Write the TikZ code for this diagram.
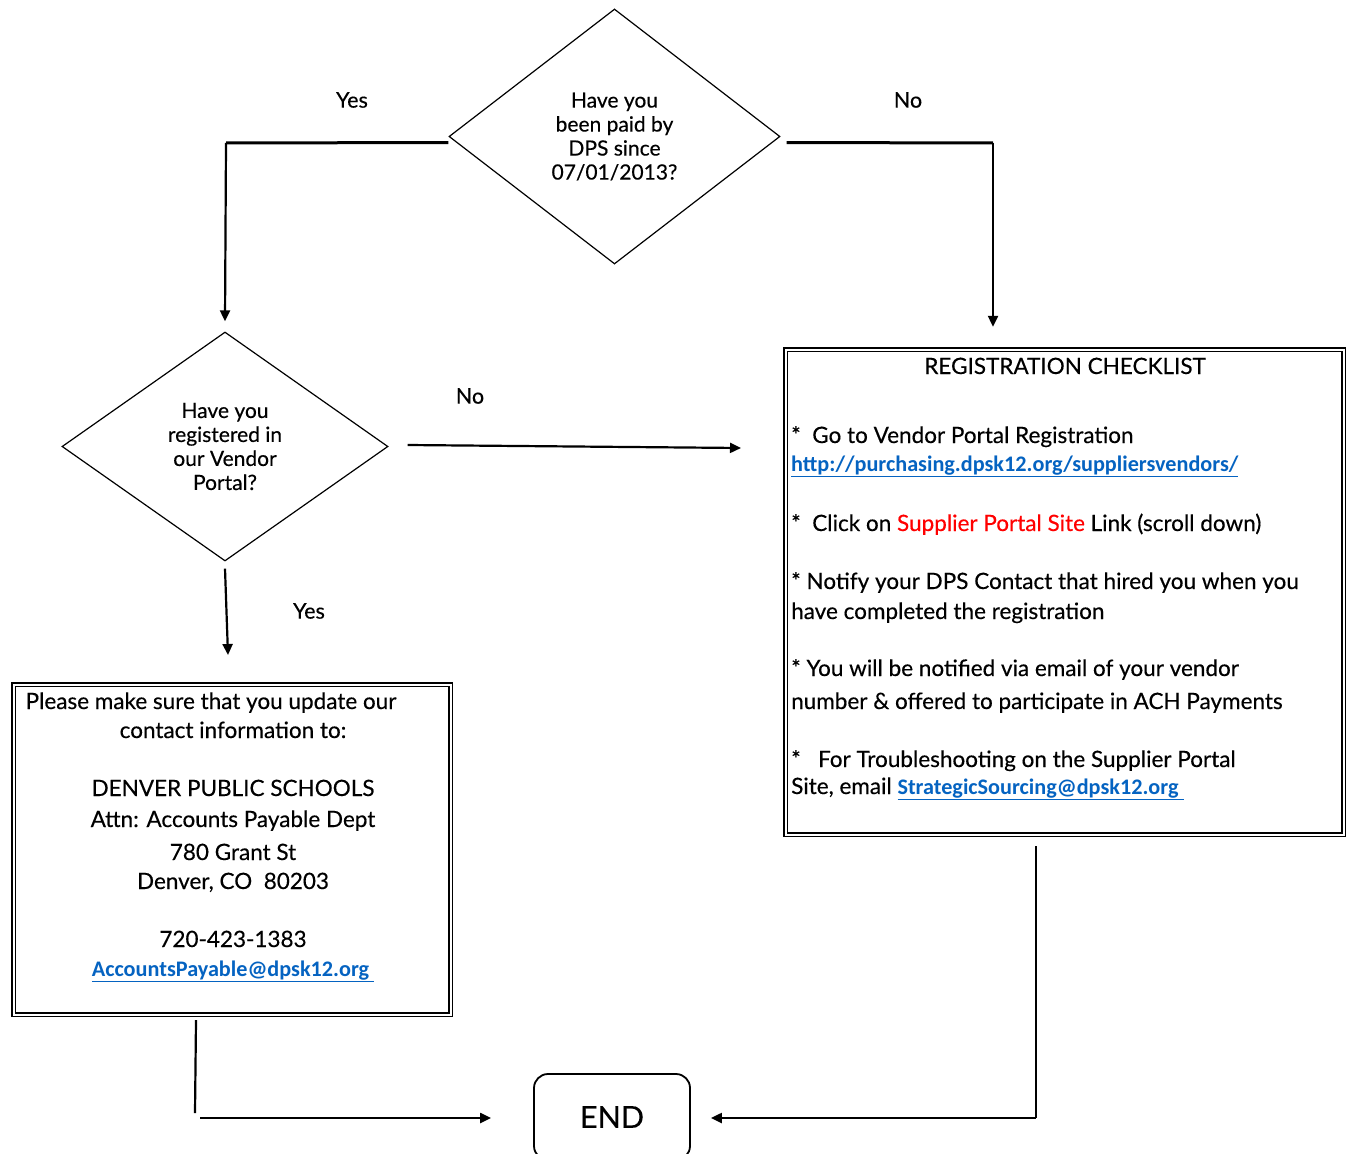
\documentclass[tikz,border=0pt]{standalone}
\usepackage{fontspec}
\setmainfont{Lato}[FakeBold=0.35]
\newfontfamily\linkfont{Carlito}
\usetikzlibrary{shapes.geometric,arrows.meta,calc}
\definecolor{linkblue}{RGB}{5,99,193}
\definecolor{sred}{RGB}{255,0,0}
\tikzset{
  dia/.style={diamond, draw, line width=1.2pt, inner sep=0pt, align=center,
    font=\fontsize{21}{24}\selectfont},
  dbox/.style={draw, double, line width=1.4pt, double distance=2pt, inner sep=0pt},
  endbox/.style={draw, line width=1.8pt, rounded corners=14pt, inner sep=0pt,
    minimum width=156pt, minimum height=86pt, font=\fontsize{30.5}{34}\selectfont},
  txt/.style={inner sep=0pt, font=\fontsize{22.5}{25}\selectfont},
  lbl/.style={inner sep=0pt, font=\fontsize{21.5}{24}\selectfont},
  hline/.style={line width=3pt},
  conn/.style={line width=2.2pt},
  arr/.style={line width=2.2pt, -{Triangle[length=11pt,width=10pt]}},
}
\newcommand{\lnk}[1]{{\linkfont\fontsize{22.2}{25}\selectfont\bfseries\color{linkblue}\underline{#1}}}
\begin{document}
\begin{tikzpicture}[x=1pt,y=-1pt]
\useasboundingbox (0,0) rectangle (1348,1153);
\clip (0,0) rectangle (1348,1153);

% decisions
\node[dia, minimum width=331pt, minimum height=255pt] (d1) at (614.5,136.5)
  {Have you\\been paid by\\DPS since\\07/01/2013?};
\node[dia, minimum width=326pt, minimum height=229pt] (d2) at (225,446.5)
  {Have you\\registered in\\our Vendor\\Portal?};

% boxes
\node[dbox, minimum width=558pt, minimum height=485pt] (reg) at (1064.5,592) {};
\node[dbox, minimum width=437pt, minimum height=330pt] (upd) at (232,849.5) {};
\node[endbox] (end) at (612,1117) {END};

% labels
\node[lbl] (y1) at (352,100) {Yes};
\node[lbl] (n1) at (908,100) {No};
\node[lbl] (n2) at (470,396) {No};
\node[lbl] (y2) at (309,611) {Yes};

% registration checklist text
\node[txt, anchor=base] (r0) at (1065,374) {REGISTRATION CHECKLIST};
\node[txt, anchor=base west] (r1) at (791,443) {*\ \ Go to Vendor Portal Registration};
\node[txt, anchor=base west] (r2) at (791,471) {\lnk{http://purchasing.dpsk12.org/suppliersvendors/}};
\node[txt, anchor=base west] (r3) at (791,531) {*\ \ Click on {\color{sred}Supplier Portal Site} Link (scroll down)};
\node[txt, anchor=base west] (r4) at (791,589) {* Notify your DPS Contact that hired you when you};
\node[txt, anchor=base west] (r5) at (791,619) {have completed the registration};
\node[txt, anchor=base west] (r6) at (791,676) {* You will be notified via email of your vendor};
\node[txt, anchor=base west] (r7) at (791,709) {number \& offered to participate in ACH Payments};
\node[txt, anchor=base west] (r8) at (791,767) {*\ \ \ For Troubleshooting on the Supplier Portal};
\node[txt, anchor=base west] (r9) at (791,794) {Site, email \lnk{StrategicSourcing@dpsk12.org\ }};

% update contact text
\node[txt, anchor=base] (u1) at (211,709) {Please make sure that you update our};
\node[txt, anchor=base] (u2) at (233,738) {contact information to:};
\node[txt, anchor=base] (u3) at (233,796) {DENVER PUBLIC SCHOOLS};
\node[txt, anchor=base] (u4) at (233,827) {Attn: Accounts Payable Dept};
\node[txt, anchor=base] (u5) at (233,860) {780 Grant St};
\node[txt, anchor=base] (u6) at (233,889) {Denver, CO\ \ 80203};
\node[txt, anchor=base] (u7) at (233,947) {720-423-1383};
\node[txt, anchor=base] (u8) at (233,976) {\lnk{AccountsPayable@dpsk12.org\ }};

% connector corner points
\coordinate (yc) at (226,143);
\coordinate (nc) at (993,143);
\coordinate (nend) at (741,448);
\coordinate (ysend) at (228,655);
\coordinate (lc1) at (195,1113);
\coordinate (lc2) at (200,1118);
\coordinate (rc) at (1036,1118);

% connectors
\draw[hline] ([yshift=-6pt]d1.west) -- (yc);
\draw[arr] (yc) -- ([yshift=10pt]d2.north);
\draw[hline] ([xshift=6pt,yshift=-6pt]d1.east) -- (nc);
\draw[arr] (nc) -- ($(reg.north -| nc)+(0,-22)$);
\draw[arr] ([xshift=19pt,yshift=1.5pt]d2.east) -- (nend);
\draw[arr] ([yshift=-7pt]d2.south) -- (ysend);
\draw[conn] ([xshift=-36pt,yshift=-5pt]upd.south) -- (lc1);
\draw[arr] (lc2) -- ([xshift=-42pt]end.west |- lc2);
\draw[conn] ([xshift=-28.5pt,yshift=-11pt]reg.south) -- (rc);
\draw[arr] (rc) -- ([xshift=20pt]end.east |- rc);
\end{tikzpicture}
\end{document}
